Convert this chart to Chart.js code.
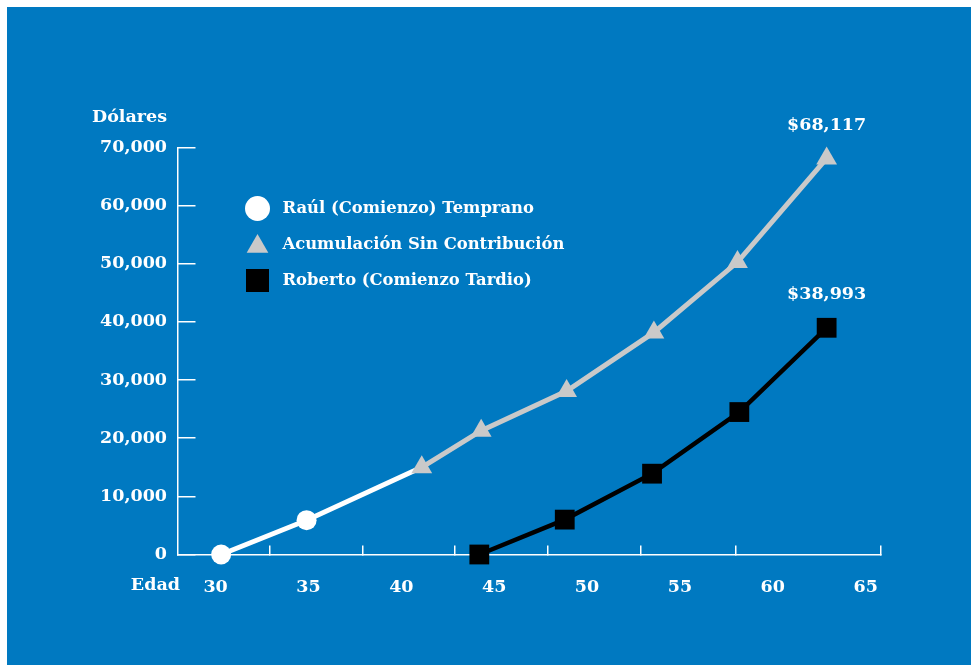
<!DOCTYPE html>
<html>
<head>
<meta charset="utf-8">
<script src="https://cdn.jsdelivr.net/npm/chart.js@4/dist/chart.umd.min.js"></script>
<style>
  html, body { margin: 0; padding: 0; background: #ffffff; width: 971px; height: 665px; overflow: hidden; }
  #panel { position: absolute; left: 7px; top: 7px; right: 0; bottom: 0; background: #0079c1; }
  canvas { position: absolute; left: 0; top: 0; }
</style>
</head>
<body>
<div id="panel"></div>
<canvas id="c" width="971" height="665"></canvas>
<script>
// Ages (x) and accumulated dollars (y) for each saver
const raulAges = [30.3, 34.9, 41.1];
const raulValues = [0, 5900, 15000];

const acumAges = [41.1, 44.3, 48.9, 53.6, 58.1, 62.9];
const acumValues = [15000, 21300, 28100, 38200, 50300, 68117];

const robertoAges = [44.2, 48.8, 53.5, 58.2, 62.9];
const robertoValues = [0, 6000, 13900, 24500, 38993];

// Axis ticks
const ageLabels = [30, 35, 40, 45, 50, 55, 60, 65];
const ageMarks = [32.9, 37.9, 42.9, 47.9, 52.9, 58.0, 65.8];
const dollarTicks = [0, 10000, 20000, 30000, 40000, 50000, 60000, 70000];
const AGE_MIN = 27.95;
const AGE_MAX = 65.8;

const fmt = v => v.toLocaleString('en-US');
const pts = (xs, ys) => xs.map((x, i) => ({ x: x, y: ys[i] }));
const setTicks = vals => scale => { scale.ticks = vals.map(v => ({ value: v })); };

const FONT = "'DejaVu Serif'";
Chart.defaults.font.family = FONT + ", serif";
Chart.defaults.font.weight = 'bold';
Chart.defaults.font.size = 17.5;
Chart.defaults.color = '#ffffff';

const legendRadius = { circle: 12.5, triangle: 12.5, rect: 16.3 };

const decorations = {
  id: 'decorations',
  afterDatasetsDraw(chart) {
    const { ctx, chartArea: a } = chart;
    ctx.save();
    ctx.fillStyle = '#ffffff';
    ctx.font = "bold 17.5px " + FONT;

    // axis captions
    ctx.textAlign = 'right';
    ctx.textBaseline = 'middle';
    ctx.fillText('Dólares', a.left - 10.5, a.top - 30);
    ctx.fillText('Edad', a.left + 2.5, a.bottom + 31);

    // final values above the last point of a series
    ctx.textAlign = 'center';
    chart.data.datasets.forEach((ds, i) => {
      if (!ds.endLabel) return;
      const meta = chart.getDatasetMeta(i);
      const last = meta.data[meta.data.length - 1];
      const v = ds.data[ds.data.length - 1].y;
      ctx.fillText('$' + fmt(v), last.x, last.y - 33);
    });

    // legend
    chart.data.datasets.forEach((ds, i) => {
      const y = a.top + 61 + i * 36;
      const x = a.left + 80;
      ctx.fillStyle = ds.pointBackgroundColor;
      Chart.helpers.drawPoint(ctx, {
        pointStyle: ds.pointStyle,
        radius: legendRadius[ds.pointStyle],
        rotation: 0,
        borderWidth: 0
      }, x, ds.pointStyle === 'triangle' ? y + 2 : y);
      ctx.fillStyle = '#ffffff';
      ctx.font = "bold 16.4px " + FONT;
      ctx.textAlign = 'left';
      ctx.textBaseline = 'middle';
      ctx.fillText(ds.label, a.left + 105, y);
    });
    ctx.restore();
  }
};

new Chart(document.getElementById('c'), {
  type: 'line',
  data: {
    datasets: [
      {
        label: 'Raúl (Comienzo) Temprano',
        data: pts(raulAges, raulValues),
        borderColor: '#ffffff',
        backgroundColor: '#ffffff',
        pointBackgroundColor: '#ffffff',
        pointStyle: 'circle',
        pointRadius: [10, 10, 0],
        pointBorderWidth: 0,
        borderWidth: 5,
        order: 3,
        clip: false
      },
      {
        label: 'Acumulación Sin Contribución',
        data: pts(acumAges, acumValues),
        borderColor: '#c9c9c9',
        backgroundColor: '#c9c9c9',
        pointBackgroundColor: '#c9c9c9',
        pointStyle: 'triangle',
        pointRadius: 12,
        pointBorderWidth: 0,
        borderWidth: 5,
        order: 2,
        clip: false,
        endLabel: true
      },
      {
        label: 'Roberto (Comienzo Tardio)',
        data: pts(robertoAges, robertoValues),
        borderColor: '#000000',
        backgroundColor: '#000000',
        pointBackgroundColor: '#000000',
        pointStyle: 'rect',
        pointRadius: 14,
        pointBorderWidth: 0,
        borderWidth: 4.5,
        order: 1,
        clip: false,
        endLabel: true
      }
    ]
  },
  options: {
    responsive: false,
    animation: false,
    events: [],
    layout: { padding: { top: 147.5, right: 90.5, left: 0, bottom: 0 } },
    plugins: { legend: { display: false }, tooltip: { enabled: false } },
    scales: {
      x: {
        type: 'linear',
        position: 'bottom',
        weight: 1,
        min: AGE_MIN,
        max: AGE_MAX,
        afterBuildTicks: setTicks(ageLabels),
        grid: { display: false },
        border: { display: false },
        ticks: { padding: 14, autoSkip: false, maxRotation: 0, callback: v => String(v) },
        afterFit: s => { s.height = 110.5; }
      },
      xm: {
        type: 'linear',
        position: 'bottom',
        weight: 0,
        min: AGE_MIN,
        max: AGE_MAX,
        afterBuildTicks: setTicks(ageMarks),
        grid: { drawOnChartArea: false, drawTicks: true, tickLength: -9, color: '#ffffff', lineWidth: 1.5 },
        border: { display: true, color: '#ffffff', width: 1.5 },
        ticks: { display: false },
        afterFit: s => { s.height = 0; }
      },
      y: {
        type: 'linear',
        min: 0,
        max: 70000,
        afterBuildTicks: setTicks(dollarTicks),
        grid: { drawOnChartArea: false, drawTicks: true, tickLength: -18, color: '#ffffff', lineWidth: 1.5 },
        border: { display: true, color: '#ffffff', width: 1.5 },
        ticks: { padding: 28.5, callback: v => fmt(v) },
        afterFit: s => { s.width = 177.5; }
      }
    }
  },
  plugins: [decorations]
});
</script>
</body>
</html>
